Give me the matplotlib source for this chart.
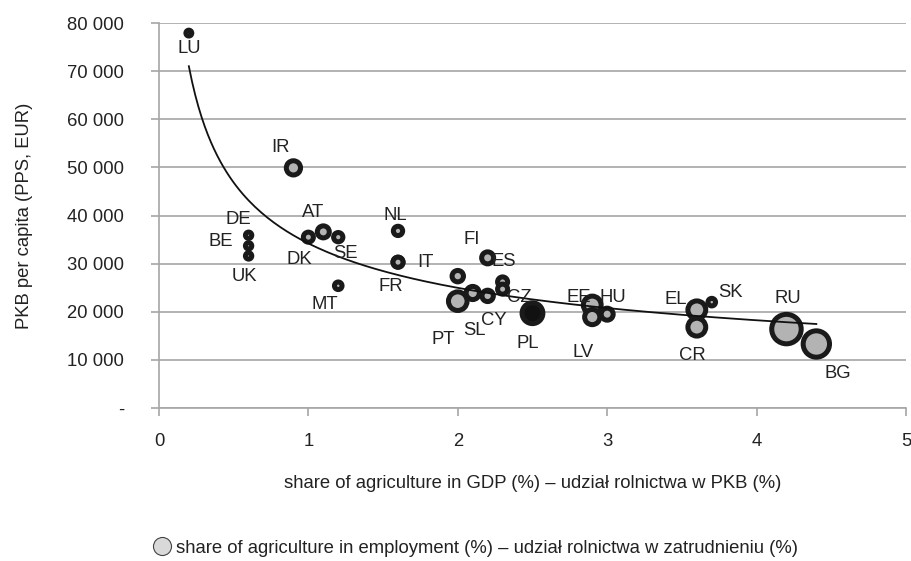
import numpy as np
import matplotlib
matplotlib.use('Agg')
import matplotlib.pyplot as plt
from matplotlib.lines import Line2D
from matplotlib.ticker import FuncFormatter

plt.rcParams['font.family'] = ['Liberation Sans', 'DejaVu Sans']

# country codes, share of agriculture in GDP (%), GDP per capita (PPS, EUR),
# share of agriculture in employment (%)
countries = ['LU', 'IR', 'DE', 'BE', 'UK', 'DK', 'AT', 'SE', 'MT', 'NL', 'IT', 'FR',
             'FI', 'ES', 'CZ', 'LT', 'PT', 'SL', 'CY', 'PL', 'EE', 'LV', 'HU', 'EL',
             'SK', 'CR', 'RU', 'BG']
gdp_share = [0.2, 0.9, 0.6, 0.6, 0.6, 1.0, 1.1, 1.2, 1.2, 1.6, 1.6, 1.6,
             2.2, 2.3, 2.3, 2.0, 2.0, 2.1, 2.2, 2.5, 2.9, 2.9, 3.0, 3.6,
             3.7, 3.6, 4.2, 4.4]
gdp_pc = [77900, 49900, 35900, 33700, 31600, 35500, 36600, 35500, 25400, 36800, 30300, 30300,
          31200, 26200, 24700, 27400, 22200, 23900, 23300, 19700, 21400, 18900, 19500, 20400,
          22000, 16800, 16400, 13300]
emp_share = [1.2, 7.0, 1.4, 1.4, 1.4, 3.5, 5.0, 3.0, 2.0, 3.0, 3.5, 3.5,
             5.0, 3.5, 3.5, 4.5, 12.0, 6.0, 4.5, 15.0, 11.0, 8.0, 5.0, 11.0,
             2.0, 11.0, 30.0, 24.0]

# label offsets in pixels (dx, dy) relative to each bubble
label_off = {'LU': (0, -15), 'IR': (-13, 20), 'DE': (-10, 16), 'BE': (-28, 4),
             'UK': (-4, -21), 'DK': (-9, -22), 'AT': (-10, 19), 'SE': (7, -16),
             'MT': (-13, -19), 'NL': (-3, 15), 'IT': (27, 0), 'FR': (-7, -24),
             'FI': (-16, 18), 'ES': (1, 20), 'CZ': (17, -8), 'CY': (6, -25),
             'SL': (2, -38), 'PT': (-15, -38), 'PL': (-5, -30), 'EE': (-13, 8),
             'HU': (6, 17), 'LV': (-9, -35), 'EL': (-21, 10), 'SK': (19, 10),
             'CR': (-4, -28), 'RU': (1, 31), 'BG': (21, -29)}

fig = plt.figure(figsize=(9.12, 5.61), dpi=100)
ax = fig.add_axes([0.1743, 0.2727, 0.8191, 0.6863])

x = np.array(gdp_share)
y = np.array(gdp_pc)
emp = np.array(emp_share)
fills = ['#111111' if c == 'PL' else '#b3b3b3' for c in countries]

ax.scatter(x, y, s=emp * 15, c=fills, edgecolors='#1a1a1a', linewidths=3.6, zorder=3)

# power trendline (least squares in log-log space)
b, loga = np.polyfit(np.log(x), np.log(y), 1)
xs = np.linspace(x.min(), x.max(), 200)
ax.plot(xs, np.exp(loga) * xs ** b, color='#111111', lw=1.3, zorder=4)

for c, xi, yi in zip(countries, x, y):
    if c in label_off:
        ax.annotate(c, (xi, yi), xytext=label_off[c], textcoords='offset pixels',
                    ha='center', va='center', fontsize=13.3, color='#222222', zorder=5)

ax.set_xlim(0, 5)
ax.set_ylim(0, 80000)
ax.set_xticks(range(6))
ax.set_yticks(range(0, 80001, 10000))
ax.yaxis.set_major_formatter(FuncFormatter(
    lambda v, p: '-' if v == 0 else f'{int(v):,}'.replace(',', ' ')))
ax.grid(axis='y', color='#a6a6a6', lw=1.2)
ax.set_axisbelow(True)
for s in ['top', 'right']:
    ax.spines[s].set_visible(False)
for s in ['left', 'bottom']:
    ax.spines[s].set_color('#a6a6a6')
    ax.spines[s].set_linewidth(1.2)
ax.tick_params(axis='both', colors='#a6a6a6', width=1.2, length=6, labelsize=13.3,
               labelcolor='#222222')
ax.tick_params(axis='x', pad=12)
ax.tick_params(axis='y', pad=19)

ax.set_xlabel('share of agriculture in GDP (%) – udział rolnictwa w PKB (%)',
              fontsize=13.3, color='#222222', labelpad=18)
ax.set_ylabel('PKB per capita (PPS, EUR)', fontsize=13.3, color='#222222', labelpad=25)

handle = Line2D([], [], marker='o', ls='', markersize=13, markerfacecolor='#d9d9d9',
                markeredgecolor='#444444', markeredgewidth=0.8)
fig.legend([handle], ['share of agriculture in employment (%) – udział rolnictwa w zatrudnieniu (%)'],
           loc='center left', bbox_to_anchor=(0.1685, 0.023), frameon=False, fontsize=13.3,
           handlelength=0.9, handletextpad=0.31, borderpad=0, borderaxespad=0,
           labelcolor='#222222')

plt.savefig('out.png')
